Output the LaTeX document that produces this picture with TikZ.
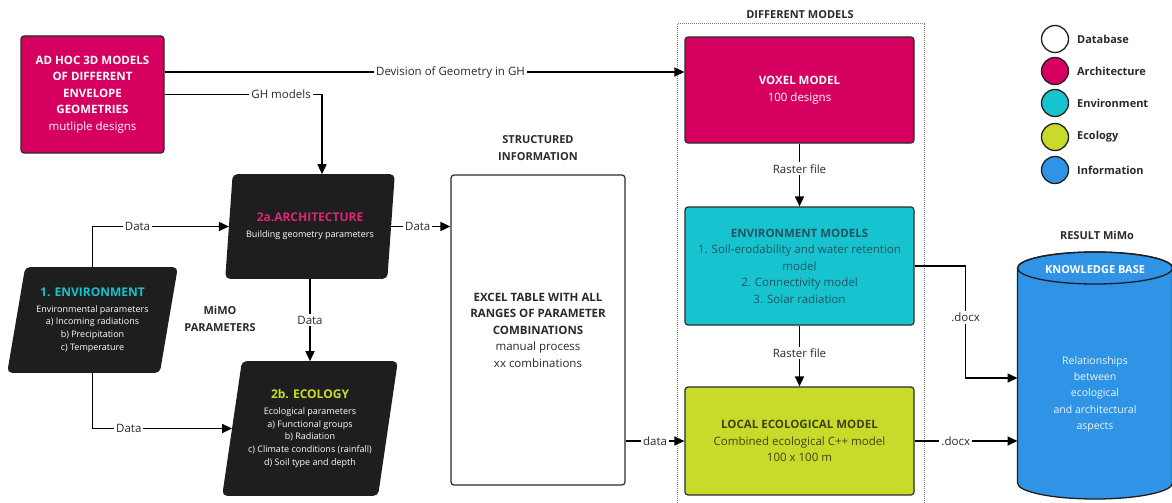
\documentclass[tikz,border=0pt]{standalone}
\usepackage{fontspec}
\setmainfont{Open Sans}
\usetikzlibrary{shapes.geometric,arrows.meta}
\definecolor{archpink}{HTML}{D5005F}
\definecolor{envteal}{HTML}{17C3CF}
\definecolor{ecolime}{HTML}{C8DB2B}
\definecolor{infoblue}{HTML}{2F94E6}
\definecolor{paradark}{HTML}{1E1E1E}
\definecolor{boxline}{HTML}{2B2B2B}
\definecolor{txtgray}{HTML}{2A2A2A}
\definecolor{envtxt}{HTML}{1E5560}
\definecolor{ecotxt}{HTML}{3C4510}
\begin{document}
\begin{tikzpicture}[x=1pt,y=1pt,>={Triangle[length=10pt,width=9pt]},line width=1.6pt,
  box/.style={draw=boxline,line width=1.2pt,rounded corners=3pt,align=center,inner sep=0pt,
    font=\fontsize{11.5}{16.5}\selectfont},
  para/.style={trapezium,trapezium left angle=77,trapezium right angle=103,trapezium stretches=true,
    fill=paradark,draw=paradark,rounded corners=4pt,text=white,align=center,inner sep=0pt,
    font=\fontsize{9}{12.7}\selectfont},
  lbl/.style={fill=white,inner sep=2pt,text=txtgray,font=\fontsize{11.5}{13}\selectfont},
  hd/.style={align=center,text=txtgray,font=\fontsize{11}{17}\selectfont\bfseries},
  legdot/.style={circle,draw=paradark,line width=1.3pt,minimum size=27pt,inner sep=0pt},
  legtxt/.style={anchor=west,text=txtgray,font=\fontsize{11}{13}\selectfont\bfseries}]
\useasboundingbox (0,0) rectangle (1172,-503);

% headings
\node[hd] (hdstruct) at (538,-148) {STRUCTURED\\INFORMATION};
\node[hd] (hdmimo) at (220,-319) {MiMO\\PARAMETERS};
\node[hd] (hdmodels) at (800,-15) {DIFFERENT MODELS};
\node[hd] (hdresult) at (1097,-235) {RESULT MiMo};
\draw[densely dotted,gray,line width=1pt] (677,-24) rectangle (924,-515);

% inputs
\node[box,fill=archpink,text=white,minimum width=143pt,minimum height=117pt] (adhoc) at (92.5,-94.5)
  {\textbf{AD HOC 3D MODELS}\\\textbf{OF DIFFERENT}\\\textbf{ENVELOPE}\\\textbf{GEOMETRIES}\\mutliple designs};
\node[para,minimum width=169pt,minimum height=104pt] (env) at (92.5,-320)
  {{\fontsize{12}{14}\selectfont\bfseries\textcolor{envteal}{1. ENVIRONMENT}}\\[3pt]
   Environmental parameters\\a) Incoming radiations\\b) Precipitation\\c) Temperature};
\node[para,minimum width=168pt,minimum height=103pt] (arch) at (310,-226.5)
  {{\fontsize{12}{14}\selectfont\bfseries\textcolor{archpink!85!white}{2a.ARCHITECTURE}}\\[3pt]
   Building geometry parameters};
\node[para,minimum width=174pt,minimum height=133pt] (eco) at (310,-428.5)
  {{\fontsize{12}{14}\selectfont\bfseries\textcolor{ecolime}{2b. ECOLOGY}}\\[3pt]
   Ecological parameters\\a) Functional groups\\b) Radiation\\c) Climate conditions (rainfall)\\d) Soil type and depth};

% structured information
\node[box,fill=white,text=txtgray,minimum width=174pt,minimum height=310pt] (excel) at (538,-330)
  {\textbf{EXCEL TABLE WITH ALL}\\\textbf{RANGES OF PARAMETER}\\\textbf{COMBINATIONS}\\manual process\\xx combinations};

% models
\node[box,fill=archpink,text=white,minimum width=229pt,minimum height=106pt] (voxel) at (799.5,-90)
  {\textbf{VOXEL MODEL}\\100 designs};
\node[box,fill=envteal,text=envtxt,minimum width=229pt,minimum height=118pt] (envm) at (799.5,-266)
  {\textbf{ENVIRONMENT MODELS}\\1. Soil-erodability and water retention\\model\\2. Connectivity model\\3. Solar radiation};
\node[box,fill=ecolime,text=ecotxt,minimum width=229pt,minimum height=108pt] (lem) at (799.5,-441)
  {\textbf{LOCAL ECOLOGICAL MODEL}\\Combined ecological C++ model\\100 x 100 m};

% result (knowledge base cylinder)
\filldraw[fill=infoblue,draw=paradark,line width=1.3pt] (1017.5,-268) -- (1017.5,-483)
  arc[start angle=180,end angle=360,x radius=77.5,y radius=16] -- (1172.5,-268)
  arc[start angle=0,end angle=180,x radius=77.5,y radius=16] -- cycle;
\draw[paradark,line width=1.3pt] (1095,-268) ellipse[x radius=77.5,y radius=16];
\coordinate (kbw) at (1017.5,-378);
\node[text=white,font=\fontsize{11}{13}\selectfont\bfseries] (kbtitle) at (1095,-270) {KNOWLEDGE BASE};
\node[text=white!90!infoblue,align=center,font=\fontsize{10.5}{16.3}\selectfont] (kbtext) at (1095,-394)
  {Relationships\\between\\ecological\\and architectural\\aspects};

% legend
\foreach \c/\t/\y [count=\i] in {white/Database/39,archpink/Architecture/71,envteal/Environment/103,
    ecolime/Ecology/137,infoblue/Information/170}{
  \node[legdot,fill=\c] (leg\i) at (1055,-\y) {};
  \node[legtxt] (legt\i) at (1073,-\y) {\t};
}

% connectors
\draw[->] ([yshift=22.5pt]adhoc.east) coordinate (dv) -- node[lbl,pos=0.55]{Devision of Geometry in GH} (dv -| voxel.west);
\draw[->] (adhoc.east) -| node[lbl,pos=0.37]{GH models} ([xshift=12pt]arch.north);
\draw[->] (env.north) |- node[lbl,pos=0.665]{Data} (arch.west);
\draw[->] (env.south) |- node[lbl,pos=0.63]{Data} (eco.west);
\draw[->] (arch.south) -- node[lbl]{Data} (eco.north);
\draw[->] (arch.east) -- node[lbl,pos=0.45]{Data} (arch.east -| excel.west);
\draw[->] (excel.east |- lem.west) -- node[lbl]{data} (lem.west);
\draw[->] (voxel.south) -- node[lbl,pos=0.4]{Raster file} (envm.north);
\draw[->] (envm.south) -- node[lbl,pos=0.45]{Raster file} (lem.north);
\draw[->] (envm.east) -- ++(51,0) |- node[lbl,pos=0.23]{.docx} (kbw);
\draw[->] (lem.east) -- node[lbl,pos=0.4]{.docx} (lem.east -| kbw);
\end{tikzpicture}
\end{document}
